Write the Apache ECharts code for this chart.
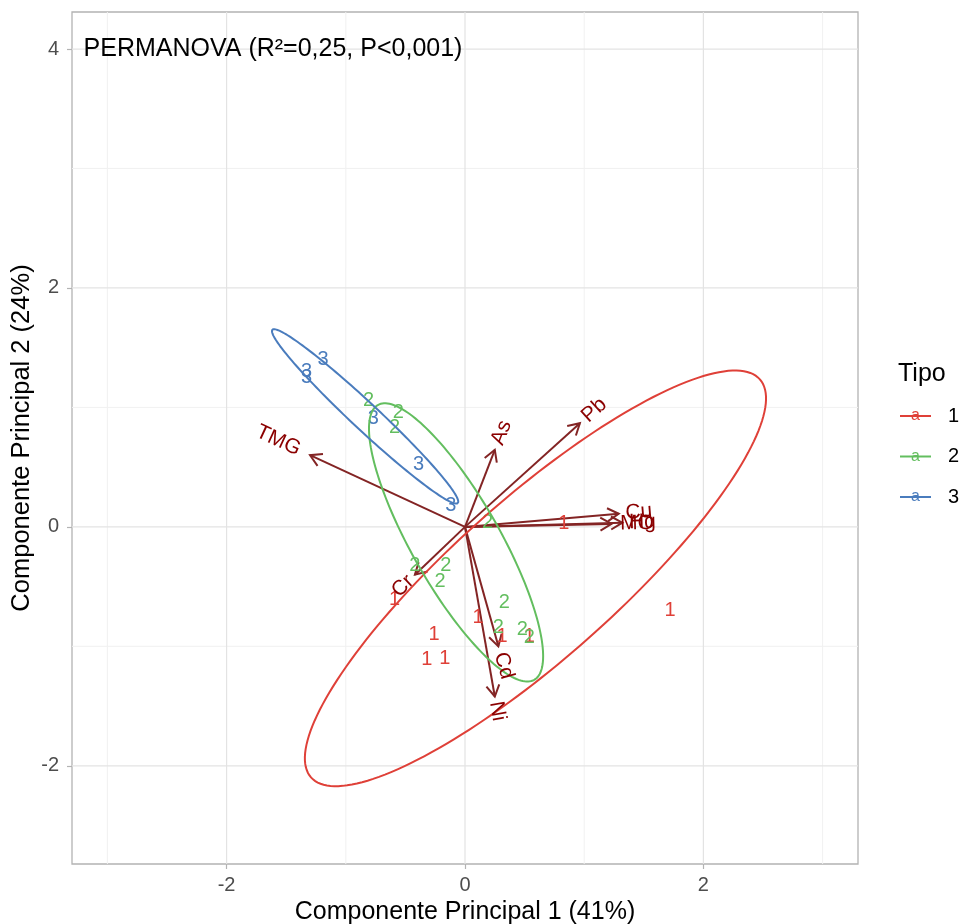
<!DOCTYPE html>
<html><head><meta charset="utf-8">
<script src="https://cdn.jsdelivr.net/npm/echarts@6/dist/echarts.min.js"></script>
<style>html,body{margin:0;padding:0;background:#fff}#c{width:961px;height:924px}</style>
</head><body><div id="c"></div>
<script>
// ---------- data ----------
const groups = ['1', '2', '3'];
const groupColors = ['#DF4038', '#63BE5F', '#4A7CBD'];

const tipo1X = [0.83, 1.72, 0.11, 0.31, 0.54, -0.26, -0.32, -0.17, -0.59];
const tipo1Y = [0.03, -0.70, -0.76, -0.92, -0.92, -0.90, -1.11, -1.10, -0.61];
const tipo2X = [-0.81, -0.56, -0.59, 0.19, -0.42, -0.16, -0.21, 0.33, 0.28, 0.48, 0.54];
const tipo2Y = [1.06, 0.96, 0.83, 0.04, -0.32, -0.32, -0.46, -0.63, -0.84, -0.86, -0.93];
const tipo3X = [-1.19, -1.33, -1.33, -0.77, -0.39, -0.12];
const tipo3Y = [1.40, 1.30, 1.25, 0.91, 0.52, 0.18];

// ellipse parameters per group (center, semi-axes, angle in degrees)
const ellCx = [0.591, -0.075, -0.838];
const ellCy = [-0.431, -0.13, 0.925];
const ellA = [2.514, 1.324, 1.063];
const ellB = [0.670, 0.370, 0.113];
const ellAngle = [41.5, -60.3, -43];

// variable loadings (arrow tips)
const varNames = ['TMG', 'As', 'Pb', 'Cu', 'MO', 'Hg', 'Cr', 'Cd', 'Ni'];
const varX = [-1.30, 0.25, 0.964, 1.29, 1.23, 1.32, -0.42, 0.28, 0.25];
const varY = [0.60, 0.645, 0.868, 0.11, 0.025, 0.035, -0.40, -1.00, -1.42];

const xTicks = [-2, 0, 2];
const yTicks = [-2, 0, 2, 4];
const xMinor = [-3, -1, 1, 3];
const yMinor = [-1, 1, 3];

const annotText = 'PERMANOVA (R\u00B2=0,25, P<0,001)';
const annotPos = [-3.2, 4];
const xTitle = 'Componente Principal 1 (41%)';
const yTitle = 'Componente Principal 2 (24%)';
const legendTitle = 'Tipo';

// ---------- layout / style ----------
const FONT = "'Liberation Sans', Arial, Helvetica, sans-serif";
const XMIN = -3.297, XMAX = 3.297, YMIN = -2.822, YMAX = 4.31;
const ARROW = '#832424';
const VARTXT = '#8B0000';

const measureCtx = document.createElement('canvas').getContext('2d');
function textW(t, size) { measureCtx.font = size + 'px ' + FONT; return measureCtx.measureText(t).width; }

const gridData = [];
xMinor.forEach(v => gridData.push([v, 0, 0]));
yMinor.forEach(v => gridData.push([v, 1, 0]));
xTicks.forEach(v => gridData.push([v, 0, 1]));
yTicks.forEach(v => gridData.push([v, 1, 1]));

const ellData = groups.map((g, i) => [ellCx[i], ellCy[i], ellA[i], ellB[i], ellAngle[i], i]);
const varData = varNames.map((n, i) => [varX[i], varY[i]]);
const ptData = [];
[[tipo1X, tipo1Y], [tipo2X, tipo2Y], [tipo3X, tipo3Y]].forEach((arr, g) => {
  arr[0].forEach((x, k) => ptData.push([x, arr[1][k], g]));
});

const chart = echarts.init(document.getElementById('c'));

const legendGraphics = [];
legendGraphics.push({ type: 'text', left: 898, top: 362, style: { text: legendTitle, font: '25px ' + FONT, fill: '#000' } });
groups.forEach((g, i) => {
  const y = 416 + i * 40.5;
  legendGraphics.push({ type: 'line', shape: { x1: 900, y1: y, x2: 931, y2: y }, style: { stroke: groupColors[i], lineWidth: 2 } });
  legendGraphics.push({ type: 'text', x: 915.5, y: y, style: { text: 'a', font: '16px ' + FONT, fill: groupColors[i], align: 'center', verticalAlign: 'middle' } });
  legendGraphics.push({ type: 'text', x: 948, y: y, style: { text: g, font: '20px ' + FONT, fill: '#000', align: 'left', verticalAlign: 'middle' } });
});

chart.setOption({
  animation: false,
  backgroundColor: '#fff',
  grid: { show: true, left: 72, top: 12, right: 103, bottom: 60, borderColor: '#b3b3b3', borderWidth: 1.3, outerBoundsMode: 'none', containLabel: false },
  xAxis: {
    type: 'value', min: XMIN, max: XMAX,
    axisLine: { show: false, onZero: false },
    splitLine: { show: false },
    axisTick: { show: true, customValues: xTicks, length: 5, lineStyle: { color: '#b3b3b3', width: 1.2 } },
    axisLabel: { customValues: xTicks, color: '#4d4d4d', fontSize: 20, fontFamily: FONT, margin: 11 },
    name: xTitle, nameLocation: 'middle', nameGap: 36, nameMoveOverlap: false,
    nameTextStyle: { fontSize: 25, color: '#000', fontFamily: FONT }
  },
  yAxis: {
    type: 'value', min: YMIN, max: YMAX,
    axisLine: { show: false, onZero: false },
    splitLine: { show: false },
    axisTick: { show: true, customValues: yTicks, length: 5, lineStyle: { color: '#b3b3b3', width: 1.2 } },
    axisLabel: { customValues: yTicks, color: '#4d4d4d', fontSize: 20, fontFamily: FONT, margin: 13 },
    name: yTitle, nameLocation: 'middle', nameGap: 37, nameRotate: 90, nameMoveOverlap: false,
    nameTextStyle: { fontSize: 25.5, color: '#000', fontFamily: FONT }
  },
  graphic: legendGraphics,
  series: [
    { // grid lines
      type: 'custom', silent: true, z: 1, data: gridData,
      renderItem(params, api) {
        const v = api.value(0), dir = api.value(1), major = api.value(2);
        const p1 = dir === 0 ? api.coord([v, YMIN]) : api.coord([XMIN, v]);
        const p2 = dir === 0 ? api.coord([v, YMAX]) : api.coord([XMAX, v]);
        return { type: 'line', shape: { x1: p1[0], y1: p1[1], x2: p2[0], y2: p2[1] },
          style: { stroke: major ? '#e3e3e3' : '#f1f1f1', lineWidth: major ? 1.2 : 1 } };
      }
    },
    { // arrows
      type: 'custom', silent: true, z: 3, data: varData,
      renderItem(params, api) {
        const p0 = api.coord([0, 0]);
        const p1 = api.coord([api.value(0), api.value(1)]);
        const ang = Math.atan2(p1[1] - p0[1], p1[0] - p0[0]);
        const L = 13, w = Math.PI / 6;
        const h1 = [p1[0] - L * Math.cos(ang - w), p1[1] - L * Math.sin(ang - w)];
        const h2 = [p1[0] - L * Math.cos(ang + w), p1[1] - L * Math.sin(ang + w)];
        return { type: 'group', children: [
          { type: 'line', shape: { x1: p0[0], y1: p0[1], x2: p1[0], y2: p1[1] }, style: { stroke: ARROW, lineWidth: 2 } },
          { type: 'polyline', shape: { points: [h1, p1, h2] }, style: { stroke: ARROW, lineWidth: 2, fill: null } }
        ] };
      }
    },
    { // group points (text labels)
      type: 'custom', silent: true, z: 4, data: ptData,
      renderItem(params, api) {
        const p = api.coord([api.value(0), api.value(1)]);
        const g = api.value(2);
        return { type: 'text', x: p[0], y: p[1],
          style: { text: groups[g], font: '20px ' + FONT, fill: groupColors[g], align: 'center', verticalAlign: 'middle' } };
      }
    },
    { // ellipses
      type: 'custom', silent: true, z: 5, data: ellData,
      renderItem(params, api) {
        const cx = api.value(0), cy = api.value(1), a = api.value(2), b = api.value(3);
        const th = api.value(4) * Math.PI / 180, g = api.value(5);
        const pts = [];
        for (let k = 0; k <= 180; k++) {
          const t = 2 * Math.PI * k / 180;
          const x = cx + a * Math.cos(th) * Math.cos(t) - b * Math.sin(th) * Math.sin(t);
          const y = cy + a * Math.sin(th) * Math.cos(t) + b * Math.cos(th) * Math.sin(t);
          pts.push(api.coord([x, y]));
        }
        return { type: 'polyline', shape: { points: pts }, style: { stroke: groupColors[g], lineWidth: 2, fill: null } };
      }
    },
    { // variable labels
      type: 'custom', silent: true, z: 6, data: varData,
      renderItem(params, api) {
        const x = api.value(0), y = api.value(1);
        const p = api.coord([x, y]);
        const name = varNames[params.dataIndex];
        const w = textW(name, 21);
        const neg = x < 0;
        const rot = Math.atan(y / x);
        return { type: 'group', x: p[0], y: p[1], rotation: rot, children: [
          { type: 'text', style: { text: name, x: neg ? -0.25 * w : 0.25 * w, y: 0, align: neg ? 'right' : 'left', verticalAlign: 'middle', font: '21px ' + FONT, fill: VARTXT } }
        ] };
      }
    },
    { // annotation
      type: 'custom', silent: true, z: 7, data: [annotPos],
      renderItem(params, api) {
        const p = api.coord([api.value(0), api.value(1)]);
        return { type: 'text', x: p[0], y: p[1], style: { text: annotText, font: '25px ' + FONT, fill: '#000', align: 'left', verticalAlign: 'middle' } };
      }
    }
  ]
});
</script>
</body></html>
